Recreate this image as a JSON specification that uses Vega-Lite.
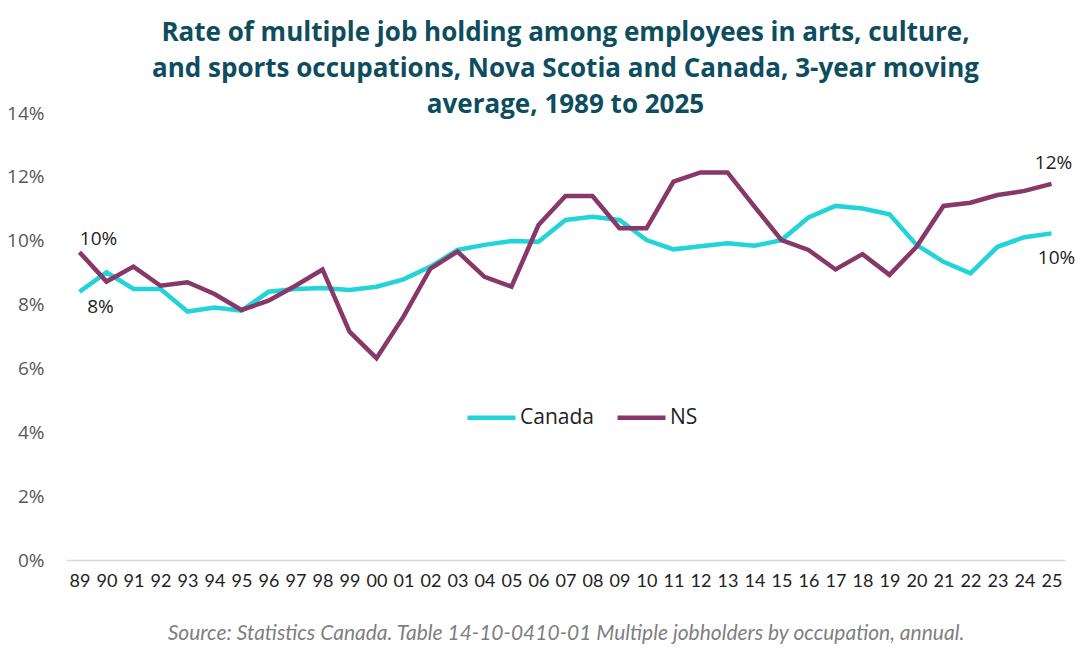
{
  "$schema": "https://vega.github.io/schema/vega-lite/v6.json",
  "width": 999,
  "height": 447,
  "autosize": {"type": "none"},
  "padding": {"left": 66, "top": 113, "right": 27, "bottom": 93},
  "background": "white",
  "title": {
    "text": [
      "Rate of multiple job holding among employees in arts, culture,",
      "and sports occupations, Nova Scotia and Canada, 3-year moving",
      "average, 1989 to 2025"
    ],
    "font": "Open Sans",
    "fontSize": 26,
    "fontWeight": "bold",
    "color": "#0D4D5E",
    "lineHeight": 36,
    "anchor": "middle",
    "frame": "group",
    "offset": -14
  },
  "config": {
    "view": {"stroke": null},
    "font": "Open Sans"
  },
  "data": {
    "values": [
      {"year": 1989, "series": "Canada", "rate": 0.0840},
      {"year": 1990, "series": "Canada", "rate": 0.0901},
      {"year": 1991, "series": "Canada", "rate": 0.0849},
      {"year": 1992, "series": "Canada", "rate": 0.0849},
      {"year": 1993, "series": "Canada", "rate": 0.0778},
      {"year": 1994, "series": "Canada", "rate": 0.0791},
      {"year": 1995, "series": "Canada", "rate": 0.0781},
      {"year": 1996, "series": "Canada", "rate": 0.0840},
      {"year": 1997, "series": "Canada", "rate": 0.0849},
      {"year": 1998, "series": "Canada", "rate": 0.0852},
      {"year": 1999, "series": "Canada", "rate": 0.0846},
      {"year": 2000, "series": "Canada", "rate": 0.0856},
      {"year": 2001, "series": "Canada", "rate": 0.0879},
      {"year": 2002, "series": "Canada", "rate": 0.0919},
      {"year": 2003, "series": "Canada", "rate": 0.0971},
      {"year": 2004, "series": "Canada", "rate": 0.0987},
      {"year": 2005, "series": "Canada", "rate": 0.0999},
      {"year": 2006, "series": "Canada", "rate": 0.0997},
      {"year": 2007, "series": "Canada", "rate": 0.1065},
      {"year": 2008, "series": "Canada", "rate": 0.1075},
      {"year": 2009, "series": "Canada", "rate": 0.1065},
      {"year": 2010, "series": "Canada", "rate": 0.1002},
      {"year": 2011, "series": "Canada", "rate": 0.0973},
      {"year": 2012, "series": "Canada", "rate": 0.0983},
      {"year": 2013, "series": "Canada", "rate": 0.0992},
      {"year": 2014, "series": "Canada", "rate": 0.0984},
      {"year": 2015, "series": "Canada", "rate": 0.1002},
      {"year": 2016, "series": "Canada", "rate": 0.1073},
      {"year": 2017, "series": "Canada", "rate": 0.1109},
      {"year": 2018, "series": "Canada", "rate": 0.1101},
      {"year": 2019, "series": "Canada", "rate": 0.1083},
      {"year": 2020, "series": "Canada", "rate": 0.0987},
      {"year": 2021, "series": "Canada", "rate": 0.0934},
      {"year": 2022, "series": "Canada", "rate": 0.0898},
      {"year": 2023, "series": "Canada", "rate": 0.0981},
      {"year": 2024, "series": "Canada", "rate": 0.1011},
      {"year": 2025, "series": "Canada", "rate": 0.1023},
      {"year": 1989, "series": "NS", "rate": 0.0964},
      {"year": 1990, "series": "NS", "rate": 0.0872},
      {"year": 1991, "series": "NS", "rate": 0.0919},
      {"year": 1992, "series": "NS", "rate": 0.0859},
      {"year": 1993, "series": "NS", "rate": 0.0870},
      {"year": 1994, "series": "NS", "rate": 0.0833},
      {"year": 1995, "series": "NS", "rate": 0.0783},
      {"year": 1996, "series": "NS", "rate": 0.0812},
      {"year": 1997, "series": "NS", "rate": 0.0859},
      {"year": 1998, "series": "NS", "rate": 0.0910},
      {"year": 1999, "series": "NS", "rate": 0.0715},
      {"year": 2000, "series": "NS", "rate": 0.0632},
      {"year": 2001, "series": "NS", "rate": 0.0762},
      {"year": 2002, "series": "NS", "rate": 0.0913},
      {"year": 2003, "series": "NS", "rate": 0.0966},
      {"year": 2004, "series": "NS", "rate": 0.0887},
      {"year": 2005, "series": "NS", "rate": 0.0856},
      {"year": 2006, "series": "NS", "rate": 0.1049},
      {"year": 2007, "series": "NS", "rate": 0.1140},
      {"year": 2008, "series": "NS", "rate": 0.1140},
      {"year": 2009, "series": "NS", "rate": 0.1039},
      {"year": 2010, "series": "NS", "rate": 0.1039},
      {"year": 2011, "series": "NS", "rate": 0.1185},
      {"year": 2012, "series": "NS", "rate": 0.1214},
      {"year": 2013, "series": "NS", "rate": 0.1214},
      {"year": 2014, "series": "NS", "rate": 0.1107},
      {"year": 2015, "series": "NS", "rate": 0.1002},
      {"year": 2016, "series": "NS", "rate": 0.0971},
      {"year": 2017, "series": "NS", "rate": 0.0910},
      {"year": 2018, "series": "NS", "rate": 0.0958},
      {"year": 2019, "series": "NS", "rate": 0.0893},
      {"year": 2020, "series": "NS", "rate": 0.0981},
      {"year": 2021, "series": "NS", "rate": 0.1109},
      {"year": 2022, "series": "NS", "rate": 0.1119},
      {"year": 2023, "series": "NS", "rate": 0.1143},
      {"year": 2024, "series": "NS", "rate": 0.1156},
      {"year": 2025, "series": "NS", "rate": 0.1178}
    ]
  },
  "encoding": {
    "x": {
      "field": "year",
      "type": "ordinal",
      "scale": {"type": "point", "padding": 0.5},
      "axis": {
        "title": "Source: Statistics Canada. Table 14-10-0410-01  Multiple jobholders by occupation, annual.",
        "titleFont": "Lato",
        "titleFontSize": 21,
        "titleFontStyle": "italic",
        "titleFontWeight": "normal",
        "titleColor": "#7F7F7F",
        "titlePadding": 32,
        "labelExpr": "substring(datum.label, 2)",
        "labelFont": "Lato",
        "labelFontSize": 18,
        "labelColor": "#222222",
        "labelAngle": 0,
        "labelPadding": 12,
        "ticks": false,
        "domainColor": "#D9D9D9",
        "domainWidth": 1.5,
        "grid": false
      }
    },
    "y": {
      "field": "rate",
      "type": "quantitative",
      "scale": {"domain": [0, 0.14]},
      "axis": {
        "title": null,
        "format": ".0%",
        "values": [0, 0.02, 0.04, 0.06, 0.08, 0.1, 0.12, 0.14],
        "labelFont": "Open Sans",
        "labelFontSize": 19,
        "labelColor": "#595959",
        "labelPadding": 22,
        "ticks": false,
        "domain": false,
        "grid": false
      }
    }
  },
  "layer": [
    {
      "mark": {"type": "line", "strokeWidth": 4.5, "strokeJoin": "miter"},
      "encoding": {
        "color": {
          "field": "series",
          "type": "nominal",
          "scale": {"domain": ["Canada", "NS"], "range": ["#22D4D7", "#873868"]},
          "legend": {
            "title": null,
            "orient": "none",
            "direction": "horizontal",
            "legendX": 399,
            "legendY": 278,
            "symbolType": "stroke",
            "symbolStrokeWidth": 4.5,
            "symbolSize": 2300,
            "labelFont": "Open Sans",
            "labelFontSize": 21,
            "labelColor": "#222222",
            "labelOffset": 2,
            "columnPadding": 14
          }
        }
      }
    },
    {
      "transform": [{"filter": "datum.series == 'NS' && datum.year == 1989"}],
      "mark": {"type": "text", "dx": 19, "dy": -13, "fontSize": 19, "font": "Open Sans", "color": "#222222"},
      "encoding": {"text": {"field": "rate", "format": ".0%"}}
    },
    {
      "transform": [{"filter": "datum.series == 'Canada' && datum.year == 1989"}],
      "mark": {"type": "text", "dx": 21, "dy": 15, "fontSize": 19, "font": "Open Sans", "color": "#222222"},
      "encoding": {"text": {"field": "rate", "format": ".0%"}}
    },
    {
      "transform": [{"filter": "datum.series == 'NS' && datum.year == 2025"}],
      "mark": {"type": "text", "dx": 2, "dy": -21, "fontSize": 19, "font": "Open Sans", "color": "#222222"},
      "encoding": {"text": {"field": "rate", "format": ".0%"}}
    },
    {
      "transform": [{"filter": "datum.series == 'Canada' && datum.year == 2025"}],
      "mark": {"type": "text", "dx": 5, "dy": 25, "fontSize": 19, "font": "Open Sans", "color": "#222222"},
      "encoding": {"text": {"field": "rate", "format": ".0%"}}
    }
  ]
}
